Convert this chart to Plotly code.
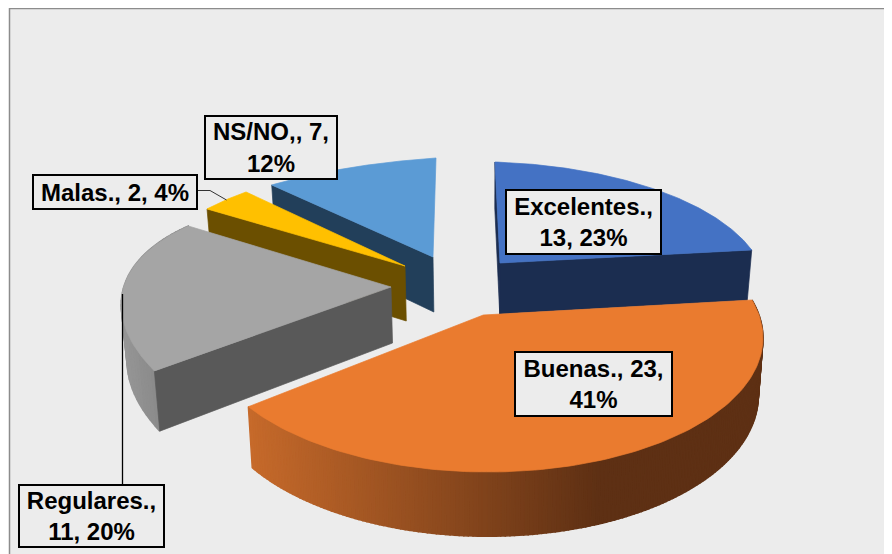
import numpy as np
import plotly.graph_objects as go

categories = ["Excelentes.", "Buenas.", "Regulares.", "Malas.", "NS/NO,"]
values = [13, 23, 11, 2, 7]
percents = [23, 41, 20, 4, 12]
label_breaks = [1, 2, 1, 3, 2]  # comma-separated pieces kept on the first line

top_colors = ["#4472c4", "#ea7b2f", "#a5a5a5", "#ffc000", "#5b9bd5"]
wall_colors = ["#1b2d50", "#5e3014", "#595959", "#6b4f00", "#223f5a"]

# perspective of each exploded slice: apex and projection of the unit circle
apex_xy = [(500, 263), (483.3, 315), (391, 287), (405, 266), (433, 257)]
proj = [(285.8, -6.1, -0.9, -122.8, 0.102, 0.216),
        (275.0, -4.1, -0.4, -132.5, -0.002, 0.156),
        (264.2, -36.6, 11.6, -119.1, -0.006, 0.366),
        (249.0, 24.2, 4.2, -100.5, 0.0, 0.0),
        (434.3, 4.9, 30.3, -161.4, -0.618, 0.630)]
depths = [51, 56.4, 56, 55, 55]
label_boxes = [(505, 662, 189, 255), (514, 673, 351, 417), (18, 165, 484, 548),
               (32, 198, 174, 210), (204, 338, 115, 180)]

angles = np.cumsum([0] + values) / sum(values) * 2 * np.pi


def rim(i, th):
    a, b, c, d, p, q = proj[i]
    w = 1 + p * np.sin(th) + q * np.cos(th)
    return (apex_xy[i][0] + (a * np.sin(th) + b * np.cos(th)) / w,
            apex_xy[i][1] + (c * np.sin(th) + d * np.cos(th)) / w)


def lift(i, x, y):
    x, y = np.asarray(x, float), np.asarray(y, float)
    return x + (483 - x) * 0.0165, y + depths[i] + 0.05 * (y - apex_xy[i][1])


fig = go.Figure()


def poly(x, y, color, name=None, lw=0.7):
    fig.add_trace(go.Scatter(x=list(x), y=list(y), mode="lines", fill="toself", fillcolor=color,
                             line=dict(color=color, width=lw), hoverinfo="skip",
                             showlegend=False, name=name))


def radial_wall(i, th):
    ex, ey = rim(i, th)
    ax, ay = apex_xy[i]
    lx, ly = lift(i, [ex, ax], [ey, ay])
    poly([ax, ex, lx[0], lx[1], ax], [ay, ey, ly[0], ly[1], ay], wall_colors[i])


def rim_wall(i, colorf, steps):
    th = np.linspace(angles[i], angles[i + 1], steps)
    x, y = rim(i, th)
    lx, ly = lift(i, x, y)
    for k in range(len(th) - 1):
        poly([x[k], x[k + 1], lx[k + 1], lx[k], x[k]], [y[k], y[k + 1], ly[k + 1], ly[k], y[k]],
             colorf((x[k] + x[k + 1]) / 2), lw=1.5)


def top_face(i):
    th = np.linspace(angles[i], angles[i + 1], 120)
    x, y = rim(i, th)
    ax, ay = apex_xy[i]
    poly(np.r_[ax, x, ax], np.r_[ay, y, ay], top_colors[i], categories[i])


def orange_shade(x):
    t = np.clip((x - 250) / (600 - 250), 0, 1)
    c0, c1 = np.array([198, 106, 43]), np.array([94, 48, 20])
    return "rgb(%d,%d,%d)" % tuple(c0 + (c1 - c0) * t)


def gray_shade(x):
    t = np.clip((x - 122) / 40, 0, 1)
    v = 150 - 14 * t
    return "rgb(%d,%d,%d)" % (v, v, v)


# back to front
radial_wall(4, angles[4])
top_face(4)
radial_wall(3, angles[3])
top_face(3)
rim_wall(2, gray_shade, 40)
radial_wall(2, angles[2])
top_face(2)
radial_wall(0, angles[0])
radial_wall(0, angles[1])
top_face(0)
rim_wall(1, orange_shade, 180)
top_face(1)

# leader lines
leader = dict(mode="lines", hoverinfo="skip", showlegend=False)
fig.add_trace(go.Scatter(x=[122.5, 122.5], y=[294, 484], line=dict(color="#000000", width=1.3), **leader))
fig.add_trace(go.Scatter(x=[198, 210, 226.5], y=[190.5, 190.5, 200], line=dict(color="#333333", width=1), **leader))

# data labels
for i, (c, v, pc) in enumerate(zip(categories, values, percents)):
    parts = [f"{c},", f"{v},", f"{pc}%"]
    n = label_breaks[i]
    first, second = " ".join(parts[:n]), " ".join(parts[n:])
    text = first if not second else first + "<br>" + second
    x0, x1, y0, y1 = label_boxes[i]
    fig.add_annotation(x=(x0 + x1) / 2, y=(y0 + y1) / 2, xref="x", yref="y", text=text, showarrow=False,
                       width=x1 - x0 - 4, height=y1 - y0 - 4, borderpad=0, borderwidth=2,
                       bordercolor="#000000", bgcolor="#ececec", align="center", valign="middle",
                       font=dict(family="Liberation Sans", size=24, color="#000000", weight="bold"))

fig.update_layout(width=884, height=546, margin=dict(l=0, r=0, t=0, b=0),
                  paper_bgcolor="#ffffff", plot_bgcolor="#ffffff", showlegend=False,
                  xaxis=dict(range=[8, 892], visible=False), yaxis=dict(range=[554, 8], visible=False),
                  shapes=[dict(type="rect", xref="x", yref="y", x0=9.5, y0=8.5, x1=905, y1=570,
                               fillcolor="#ececec", line=dict(color="#8c8c8c", width=1.5), layer="below")])
fig.write_html("out.html")
